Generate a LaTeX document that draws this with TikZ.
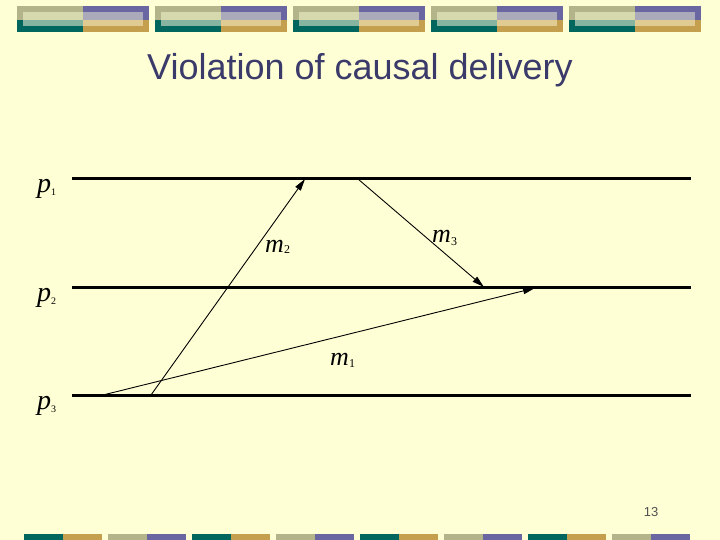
\documentclass[tikz,border=0pt]{standalone}
\usepackage{fontspec}
\setmainfont{Liberation Serif}
\newfontfamily\titlefont{Liberation Sans}
\usetikzlibrary{arrows.meta}
\definecolor{bg}{HTML}{FFFFD6}
\definecolor{olive}{HTML}{B4B48A}
\definecolor{lolive}{HTML}{D6D8AE}
\definecolor{lteal}{HTML}{86B4A0}
\definecolor{teal}{HTML}{00665E}
\definecolor{purp}{HTML}{6A66A2}
\definecolor{lpurp}{HTML}{AAAABB}
\definecolor{lgold}{HTML}{E0CC92}
\definecolor{gold}{HTML}{C4A04E}
\definecolor{titlecol}{HTML}{3B3B6B}
\definecolor{numcol}{HTML}{505050}
\tikzset{
  procline/.style={line width=3pt},
  msg/.style={line width=0.9pt,-{Triangle[length=12pt,width=6.5pt]}},
  plabel/.style={anchor=base west,inner sep=0pt,font=\fontsize{28}{28}\selectfont\itshape},
  mlabel/.style={anchor=base west,inner sep=0pt,font=\fontsize{26}{26}\selectfont\itshape},
  sublabel/.style={anchor=base west,inner sep=0pt,font=\fontsize{10}{10}\selectfont},
  msub/.style={anchor=base west,inner sep=0pt,font=\fontsize{12}{12}\selectfont},
}
\begin{document}
\begin{tikzpicture}[x=1pt,y=-1pt]
\useasboundingbox (0,0) rectangle (720,540);
\fill[bg] (0,0) rectangle (720,540);
% header blocks
\foreach \bx in {17,155,293,431,569}{
  \fill[olive] (\bx,6) rectangle (\bx+66,20);
  \fill[teal] (\bx,20) rectangle (\bx+66,32);
  \fill[purp] (\bx+66,6) rectangle (\bx+132,20);
  \fill[gold] (\bx+66,20) rectangle (\bx+132,32);
  \fill[lolive] (\bx+6,12) rectangle (\bx+66,20);
  \fill[lteal] (\bx+6,20) rectangle (\bx+66,26);
  \fill[lpurp] (\bx+66,12) rectangle (\bx+126,20);
  \fill[lgold] (\bx+66,20) rectangle (\bx+126,26);
}
% footer strips
\foreach \bx in {24,192,360,528}{
  \fill[teal] (\bx,534) rectangle (\bx+39,540);
  \fill[gold] (\bx+39,534) rectangle (\bx+78,540);
}
\foreach \bx in {108,276,444,612}{
  \fill[olive] (\bx,534) rectangle (\bx+39,540);
  \fill[purp] (\bx+39,534) rectangle (\bx+78,540);
}
% title
\node[font=\titlefont\fontsize{36}{36}\selectfont,text=titlecol,anchor=base,inner sep=0pt] (title) at (360,80) {Violation of causal delivery};
% page number
\node[font=\titlefont\fontsize{13}{13}\selectfont,text=numcol,anchor=base,inner sep=0pt] (pagenum) at (651,516) {13};
% process lines
\coordinate (p1a) at (72,179); \coordinate (p1b) at (691,179);
\coordinate (p2a) at (72,287); \coordinate (p2b) at (691,287);
\coordinate (p3a) at (72,395); \coordinate (p3b) at (691,395);
\draw[procline] (p1a) -- (p1b);
\draw[procline] (p2a) -- (p2b);
\draw[procline] (p3a) -- (p3b);
% process labels
\node[plabel] (lp1) at (37,193) {p};
\node[sublabel] (sp1) at (51,196) {1};
\node[plabel] (lp2) at (37,301) {p};
\node[sublabel] (sp2) at (51,304) {2};
\node[plabel] (lp3) at (37,409) {p};
\node[sublabel] (sp3) at (51,412) {3};
% messages
\coordinate (m1s) at (103,395); \coordinate (m1e) at (535,288);
\coordinate (m2s) at (151,395); \coordinate (m2e) at (305,179);
\coordinate (m3s) at (358,179); \coordinate (m3e) at (484,287);
\draw[msg] (m1s) -- (m1e);
\draw[msg] (m2s) -- (m2e);
\draw[msg] (m3s) -- (m3e);
% message labels
\node[mlabel] (lm2) at (265,252) {m};
\node[msub] (sm2) at (284,254) {2};
\node[mlabel] (lm3) at (432,243) {m};
\node[msub] (sm3) at (451,245) {3};
\node[mlabel] (lm1) at (330,365) {m};
\node[msub] (sm1) at (349,367) {1};
\end{tikzpicture}
\end{document}
